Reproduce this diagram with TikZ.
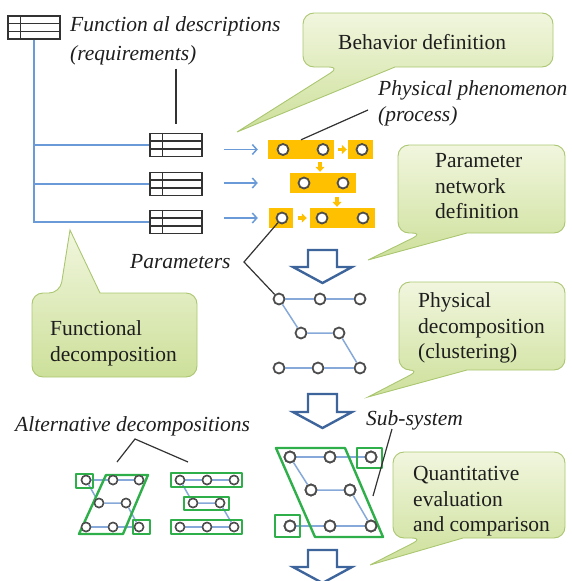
\documentclass[tikz,border=0pt]{standalone}
\usepackage{fontspec}
\setmainfont{Liberation Serif}
\usetikzlibrary{arrows.meta,calc}
\definecolor{orng}{HTML}{FFC000}
\definecolor{cgray}{HTML}{4D4D4D}
\definecolor{edgeblue}{HTML}{86A9D9}
\definecolor{treeblue}{HTML}{6A9BD8}
\definecolor{grn}{HTML}{2EAF4A}
\definecolor{bigblue}{HTML}{3E649C}
\definecolor{cotop}{HTML}{F1F6DE}
\definecolor{cobot}{HTML}{CDE09A}
\definecolor{coborder}{HTML}{ABC671}
\definecolor{txt}{HTML}{1E1E1E}
\definecolor{lbline}{HTML}{333333}
\definecolor{tblc}{HTML}{333333}
\begin{document}
\begin{tikzpicture}[x=1pt,y=-1pt,
  tbl/.style={draw=tblc, line width=1.3pt, minimum width=52pt, minimum height=23pt, inner sep=0pt},
  tblline/.style={draw=tblc, line width=1.2pt},
  oblock/.style={fill=orng, inner sep=0pt},
  pc/.style={circle, draw=cgray, fill=white, line width=1.8pt, minimum size=11pt, inner sep=0pt},
  spc/.style={circle, draw=cgray, fill=white, line width=1.5pt, minimum size=9pt, inner sep=0pt},
  nedge/.style={draw=edgeblue, line width=1.5pt},
  tree/.style={draw=treeblue, line width=1.6pt},
  barr/.style={draw=treeblue, line width=1.5pt, -{Straight Barb[length=4.5pt,width=10pt]}},
  oarr/.style={draw=orng, line width=3.5pt, -{Triangle[length=5pt,width=9pt]}},
  bigarr/.style={draw=bigblue, fill=white, line width=2.4pt, line join=miter},
  grnbox/.style={draw=grn, line width=2.4pt, line join=round},
  callout/.style={draw=coborder, line width=0.9pt, top color=cotop, bottom color=cobot},
  lbl/.style={inner sep=0pt, text=txt, font=\fontsize{21.5}{25.5}\selectfont\itshape, align=left},
  ctext/.style={inner sep=0pt, text=txt, font=\fontsize{21.5}{25.5}\selectfont, align=left},
  lline/.style={draw=lbline, line width=1.2pt}
]
\useasboundingbox (0,0) rectangle (571,581);
\clip (0,0) rectangle (571,581);

% ---------- callouts ----------
\path[callout] (237,132) -- (395,67) [rounded corners=11pt] -- (553,67) -- (553,13) -- (303,13) -- (303,67) -- (340,67) [sharp corners] -- cycle;
\path[callout] (368,260) -- (467,233) [rounded corners=11pt] -- (565,233) -- (565,145) -- (398,145) -- (398,233) -- (423,233) [sharp corners] -- cycle;
\path[callout] (368,397) -- (467,370) [rounded corners=11pt] -- (565,370) -- (565,282) -- (399,282) -- (399,370) -- (420,370) [sharp corners] -- cycle;
\path[callout] (370,565) -- (463,538) [rounded corners=11pt] -- (565,538) -- (565,452) -- (393,452) -- (393,538) -- (423,538) [sharp corners] -- cycle;
\path[callout] (70,230) -- (100,293) [rounded corners=11pt] -- (197,293) -- (197,377) -- (32,377) -- (32,293) -- (60,293) [sharp corners] -- cycle;

\node[ctext, anchor=base west] (cBeh) at (338,49) {Behavior definition};
\node[ctext, anchor=north west] (cPar) at (435,153.5) {Parameter\\network\\definition};
\node[ctext, anchor=north west] (cPhy) at (418,292.5) {Physical\\decomposition\\(clustering)};
\node[ctext, anchor=north west] (cQua) at (413,466.5) {Quantitative\\evaluation\\and comparison};
\node[ctext, anchor=north west] (cFun) at (50,320.5) {Functional\\decomposition};

% ---------- functional descriptions ----------
\node[tbl] (t0) at (34,27.5) {};
\node[tbl] (t1) at (176,145) {};
\node[tbl] (t2) at (176,184) {};
\node[tbl] (t3) at (176,222) {};
\foreach \t in {t0,t1,t2,t3} {
  \draw[tblline] ($(\t.north west)!0.333!(\t.south west)$) -- ($(\t.north east)!0.333!(\t.south east)$);
  \draw[tblline] ($(\t.north west)!0.667!(\t.south west)$) -- ($(\t.north east)!0.667!(\t.south east)$);
  \draw[tblline] ($(\t.north west)+(13,0)$) -- ($(\t.south west)+(13,0)$);
}
\node[lbl, anchor=north west, font=\fontsize{21.5}{29.5}\selectfont\itshape] (fdesc) at (70,16.3) {Function al descriptions\\(requirements)};
\draw[lline] (t1.north |- fdesc.south) ++(0,3) -- ([yshift=9pt]t1.north);

\draw[tree] (t0.south) |- (t3.west);
\draw[tree] (t0.south |- t1.west) -- (t1.west);
\draw[tree] (t0.south |- t2.west) -- (t2.west);

% ---------- process blocks ----------
\node[oblock, minimum width=66pt, minimum height=19pt] (pA) at (301,149.5) {};
\node[oblock, minimum width=25pt, minimum height=19pt] (pB) at (360.5,149.5) {};
\node[oblock, minimum width=66pt, minimum height=20pt] (pE) at (323,183) {};
\node[oblock, minimum width=24pt, minimum height=20pt] (pC) at (281,218) {};
\node[oblock, minimum width=65pt, minimum height=20pt] (pD) at (342.5,218) {};

\draw[barr] ($(t1.east |- pA.center)+(21,0)$) -- ($(pA.west)+(-10,0)$);
\draw[barr] ($(t2.east |- pE.center)+(21,0)$) -- ($(pC.west |- pE.center)+(-11,0)$);
\draw[barr] ($(t3.east |- pC.center)+(21,0)$) -- ($(pC.west)+(-11,0)$);

\draw[oarr, shorten <=4pt, shorten >=1pt] (pA.east) -- (pB.west);
\draw[oarr, shorten <=3pt, shorten >=1pt] ($(pA.south)+(19,0)$) -- ($(pE.north)+(-3,0)$);
\draw[oarr, shorten <=4pt, shorten >=1pt] ($(pE.south)+(14,0)$) -- ($(pD.north)+(-5.5,0)$);
\draw[oarr, shorten <=5pt, shorten >=3pt] (pC.east) -- (pD.west);

\foreach \n/\x/\y in {qa1/283/149.5, qa2/323/149.5, qb1/362/149.5, qe1/304/183, qe2/343/183, qc1/282/218, qd1/322/218, qd2/363/218}
  \node[pc] (\n) at (\x,\y) {};

\node[lbl, anchor=north west] (phen) at (378,80.8) {Physical phenomenon\\(process)};
\coordinate (phenL) at (368,110);
\draw[lline] (phenL) -- (pA.north);

% ---------- parameter network ----------
\foreach \n/\x/\y in {n11/279/299, n12/320/299, n13/360/299, n21/301/333, n22/339/333, n31/279/368, n32/318/368, n33/360/368}
  \node[pc] (\n) at (\x,\y) {};
\draw[nedge] (n11) -- (n12) -- (n13);
\draw[nedge] (n11) -- (n21) -- (n22) -- (n33);
\draw[nedge] (n31) -- (n32) -- (n33);

\node[lbl, anchor=base west] (params) at (130,268) {Parameters};
\coordinate (pbend) at (244,262);
\draw[lline] (qc1) -- (pbend) -- (n11);

% ---------- big arrows ----------
\draw[bigarr] (308,250) -- (337,250) -- (337,267) -- (352,267) -- (322.5,283) -- (293,267) -- (308,267) -- cycle;
\draw[bigarr] (308,394) -- (337,394) -- (337,412) -- (352,412) -- (322.5,428) -- (293,412) -- (308,412) -- cycle;
\draw[bigarr] (308,550) -- (337,550) -- (337,567) -- (352,567) -- (322.5,583) -- (293,567) -- (308,567) -- cycle;

% ---------- sub-system ----------
\foreach \n/\x/\y in {m11/290/457, m12/330/457, m13/371/457, m21/311/490, m22/350/490, m31/290/526, m32/330/526, m33/371/526}
  \node[pc] (\n) at (\x,\y) {};
\draw[nedge] (m11) -- (m12) -- (m13);
\draw[nedge] (m11) -- (m21) -- (m22) -- (m33);
\draw[nedge] (m31) -- (m32) -- (m33);
\draw[grnbox] (276,448) -- (345,448) -- (383,537) -- (315,537) -- cycle;
\draw[grnbox] (357,448) rectangle (382,468);
\draw[grnbox] (275,515) rectangle (300,537);
\foreach \n in {m11,m12,m13,m21,m22,m31,m32,m33} \node[pc] at (\n) {};

\node[lbl, anchor=base west] (subsys) at (366,425) {Sub-system};
\coordinate (subL) at (392,429);
\coordinate (subE) at (373,496);
\draw[lline] (subL) -- (subE);

% ---------- alternative decompositions ----------
\foreach \n/\x/\y in {a11/86/480, a12/113/480, a13/139/480, a21/99/503, a22/126/503, a31/86/527, a32/113/527, a33/139/527,
                      b11/180/480, b12/207/480, b13/234/480, b21/193/503, b22/220/503, b31/180/527, b32/207/527, b33/234/527}
  \node[spc] (\n) at (\x,\y) {};
\draw[nedge] (a11) -- (a12) -- (a13);
\draw[nedge] (a11) -- (a21) -- (a22) -- (a33);
\draw[nedge] (a31) -- (a32) -- (a33);
\draw[nedge] (b11) -- (b12) -- (b13);
\draw[nedge] (b11) -- (b21) -- (b22) -- (b33);
\draw[nedge] (b31) -- (b32) -- (b33);
\draw[grnbox] (76,474) rectangle (93,488);
\draw[grnbox] (106,475) -- (148,475) -- (123,534) -- (79,534) -- cycle;
\draw[grnbox] (133,520) rectangle (150,534);
\draw[grnbox] (171,473) rectangle (242,487);
\draw[grnbox] (184,497) rectangle (229,510);
\draw[grnbox] (171,520) rectangle (242,534);
\foreach \n in {a11,a12,a13,a21,a22,a31,a32,a33,b11,b12,b13,b21,b22,b31,b32,b33} \node[spc] at (\n) {};

\node[lbl, anchor=base west] (alt) at (15,431) {Alternative decompositions};
\coordinate (altA) at (135,439);
\coordinate (altL) at (117,462);
\coordinate (altR) at (188,462);
\draw[lline] (altL) -- (altA) -- (altR);
\end{tikzpicture}
\end{document}
